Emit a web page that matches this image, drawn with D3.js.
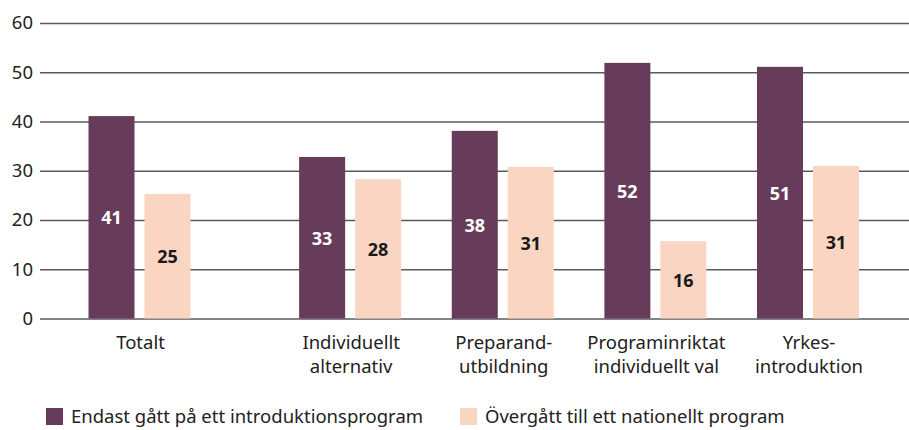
<!DOCTYPE html>
<html>
<head>
<meta charset="utf-8">
<script src="https://cdn.jsdelivr.net/npm/d3@7"></script>
<style>
	body { margin: 0; background: #fff; }
	svg { display: block; font-family: 'Noto Sans', sans-serif; }
</style>
</head>
<body>
<svg id="chart" width="909" height="430"></svg>
<script>
'use strict';

const categories = ['Totalt', 'Individuellt alternativ', 'Preparandutbildning', 'Programinriktat individuellt val', 'Yrkesintroduktion'];
const categoryLines = [['Totalt'], ['Individuellt', 'alternativ'], ['Preparand-', 'utbildning'], ['Programinriktat', 'individuellt val'], ['Yrkes-', 'introduktion']];
const seriesNames = ['Endast gått på ett introduktionsprogram', 'Övergått till ett nationellt program'];
const onlyIntro = [41.1, 32.8, 38.1, 51.9, 51.1];
const movedNational = [25.3, 28.3, 30.8, 15.7, 31.0];
const yTicks = [0, 10, 20, 30, 40, 50, 60];

const colors = ['#673c5a', '#fad5c2'];
const labelColors = ['#ffffff', '#1a1a1a'];

const width = 909;
const plotLeft = 40;
const barWidth = 46;
const barGap = 10;
const totalShift = 58;
const fontSize = '18.5px';

const svg = d3.select('#chart');

const y = d3.scaleLinear()
	.domain([0, 60])
	.range([318.5, 23]);

const x = d3.scalePoint()
	.domain(categories)
	.range([197.5, 808]);

// Totalt sits a bit apart from the other groups
function groupCenter(category, i) {
	return x(category) - (i == 0 ? totalShift : 0);
}

// grid + tick labels
const axis = svg.append('g')
	.attr('transform', `translate(${plotLeft},0)`)
	.call(d3.axisLeft(y)
		.tickValues(yTicks)
		.tickSize(-(width - plotLeft))
		.tickPadding(7));
axis.select('.domain').remove();
axis.selectAll('.tick line')
	.attr('stroke', '#5a5a5a')
	.attr('stroke-width', 1.5);
axis.selectAll('.tick text')
	.attr('fill', '#222')
	.style('font-size', fontSize)
	.style('font-family', "'Noto Sans', sans-serif");

const series = [onlyIntro, movedNational];

series.forEach((values, s) => {
	const offset = s == 0 ? -(barWidth + barGap) / 2 : (barWidth + barGap) / 2;
	const g = svg.append('g');
	g.selectAll('rect')
		.data(values)
		.join('rect')
		.attr('x', (d, i) => groupCenter(categories[i], i) + offset - barWidth / 2)
		.attr('y', d => y(d))
		.attr('width', barWidth)
		.attr('height', d => y(0) - y(d))
		.attr('fill', colors[s]);
	g.selectAll('text')
		.data(values)
		.join('text')
		.attr('x', (d, i) => groupCenter(categories[i], i) + offset)
		.attr('y', d => (y(d) + y(0)) / 2)
		.attr('text-anchor', 'middle')
		.attr('dominant-baseline', 'central')
		.attr('fill', labelColors[s])
		.style('font-size', '18px')
		.style('font-weight', 'bold')
		.text(d => d3.format('.0f')(d));
});

// category labels
const catLabels = svg.append('g')
	.selectAll('text')
	.data(categories)
	.join('text')
	.attr('x', (d, i) => groupCenter(d, i) + 1)
	.attr('y', 349)
	.attr('text-anchor', 'middle')
	.attr('fill', '#222')
	.style('font-size', fontSize);
catLabels.selectAll('tspan')
	.data((d, i) => categoryLines[i])
	.join('tspan')
	.attr('x', function () { return this.parentNode.getAttribute('x'); })
	.attr('dy', (d, j) => j == 0 ? 0 : 24)
	.text(d => d);

// legend
const legendX = [46, 460];
const legend = svg.append('g')
	.selectAll('g')
	.data(seriesNames)
	.join('g')
	.attr('transform', (d, i) => `translate(${legendX[i]},408)`);
legend.append('rect')
	.attr('width', 17)
	.attr('height', 17)
	.attr('fill', (d, i) => colors[i]);
legend.append('text')
	.attr('x', 25)
	.attr('y', 15)
	.attr('fill', '#222')
	.style('font-size', fontSize)
	.text(d => d);
</script>
</body>
</html>
